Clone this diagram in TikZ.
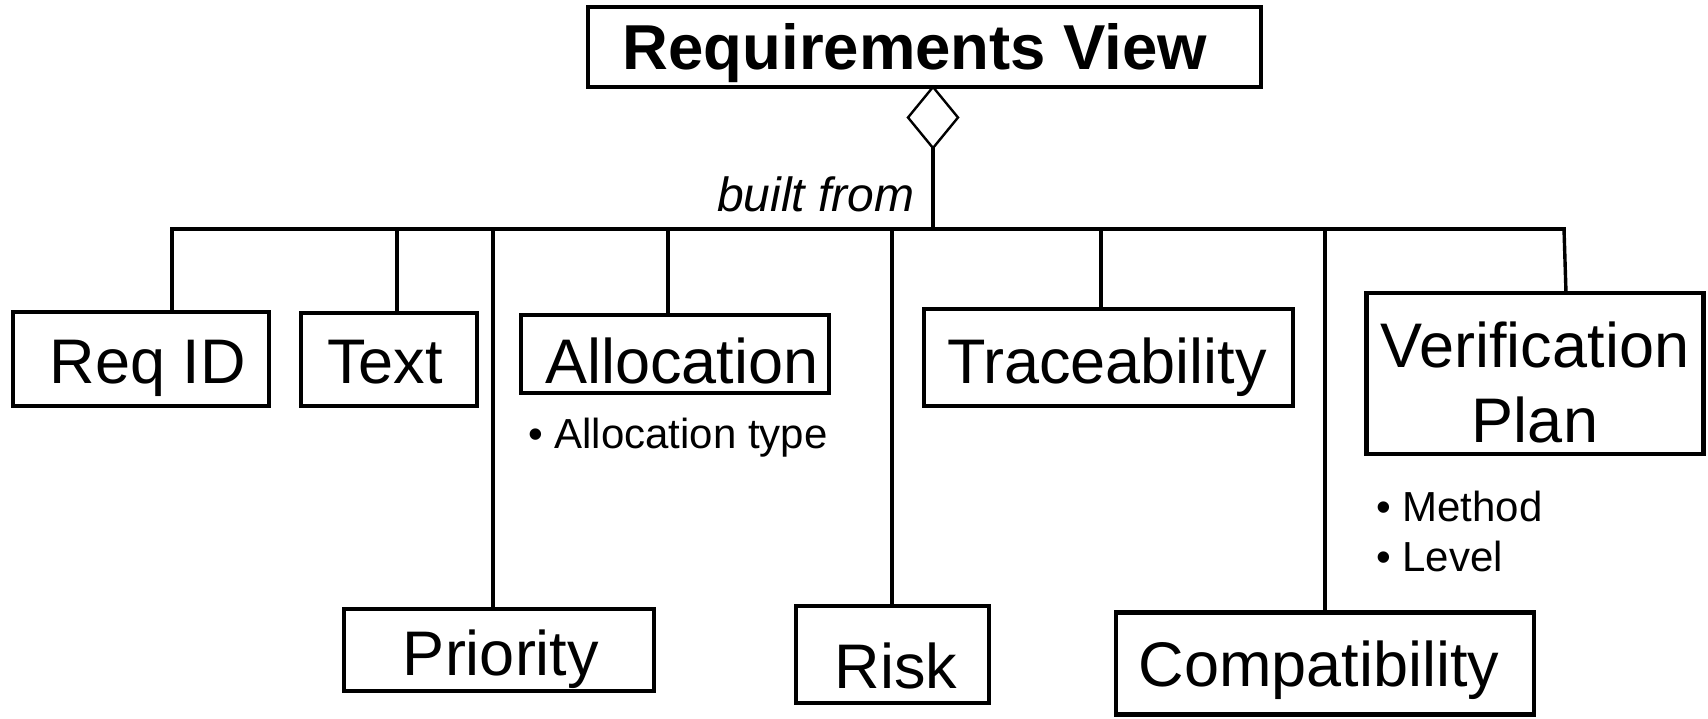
\documentclass[tikz,border=0pt]{standalone}
\usepackage{fontspec}
\setmainfont{Liberation Sans}
\usetikzlibrary{shapes.geometric}
\begin{document}
\begin{tikzpicture}[x=0.5pt,y=-0.5pt,
  box/.style={draw=black,line width=2.2pt,rectangle,inner sep=0pt,outer sep=0pt},
  lbl/.style={inner sep=0pt,outer sep=0pt,anchor=base,font=\fontsize{31.5}{37.8}\selectfont},
  bul/.style={inner sep=0pt,outer sep=0pt,anchor=base west,font=\fontsize{21}{25}\selectfont},
  conn/.style={line width=1.7pt,line cap=rect}]
\useasboundingbox (0,0) rectangle (1708,718);
% title
\node[box,minimum width=336.5pt,minimum height=40pt] (title) at (924.5,47) {};
\node[inner sep=0pt,anchor=base,font=\fontsize{31.75}{38}\selectfont\bfseries] (titletxt) at (915,69) {Requirements View};
% diamond
\node[draw=black,line width=1.2pt,shape=diamond,inner sep=0pt,outer sep=0pt,
      minimum width=25pt,minimum height=30.5pt,anchor=north] (dia) at (933,87) {};
\node[inner sep=0pt,anchor=base east,font=\fontsize{24}{28}\selectfont\itshape] (built) at (915,211) {built from};
% bus
\coordinate (busL) at (172,229);
\coordinate (busR) at (1564,229);
\coordinate (busM) at (933,229);
\draw[conn] (busL) -- (busR);
\draw[conn] (dia.south) -- (busM);
% boxes
\node[box,minimum width=128pt,minimum height=47pt] (reqid) at (141,359) {};
\node[lbl] (reqidt) at (148,383) {Req ID};
\node[box,minimum width=88pt,minimum height=46.5pt] (text) at (389,359.5) {};
\node[lbl] (textt) at (385,383) {Text};
\node[box,minimum width=154pt,minimum height=39pt] (alloc) at (675,354) {};
\node[lbl] (alloct) at (682,383) {Allocation};
\node[bul] (alloctype) at (528,448) {• Allocation type};
\node[box,minimum width=155pt,minimum height=41pt] (prio) at (499,650) {};
\node[lbl] (priot) at (501,675) {Priority};
\node[box,minimum width=96.5pt,minimum height=48.5pt] (risk) at (892.5,654.5) {};
\node[lbl] (riskt) at (896,688) {Risk};
\node[box,minimum width=184.5pt,minimum height=48.5pt] (trace) at (1108.5,357.5) {};
\node[lbl] (tracet) at (1107,383) {Traceability};
\node[box,minimum width=209pt,minimum height=51pt] (compat) at (1325,663.5) {};
\node[lbl] (compatt) at (1319,686) {Compatibility};
\node[box,minimum width=168.5pt,minimum height=80.5pt] (verif) at (1535,373.5) {};
\node[lbl] (verift1) at (1535,367) {Verification};
\node[lbl] (verift2) at (1535,442) {Plan};
\node[bul] (method) at (1376,521) {• Method};
\node[bul] (level) at (1376,571) {• Level};
% drops
\coordinate (d1) at (172,229);
\coordinate (d2) at (397,229);
\coordinate (d3) at (493,229);
\coordinate (d4) at (668,229);
\coordinate (d5) at (892,229);
\coordinate (d6) at (1101,229);
\coordinate (d7) at (1325,229);
\coordinate (d8t) at (1566,293);
\draw[conn] (d1) -- (d1 |- reqid.north);
\draw[conn] (d2) -- (d2 |- text.north);
\draw[conn] (d3) -- (d3 |- prio.north);
\draw[conn] (d4) -- (d4 |- alloc.north);
\draw[conn] (d5) -- (d5 |- risk.north);
\draw[conn] (d6) -- (d6 |- trace.north);
\draw[conn] (d7) -- (d7 |- compat.north);
\draw[conn] (busR) -- (d8t |- verif.north);
\end{tikzpicture}
\end{document}
